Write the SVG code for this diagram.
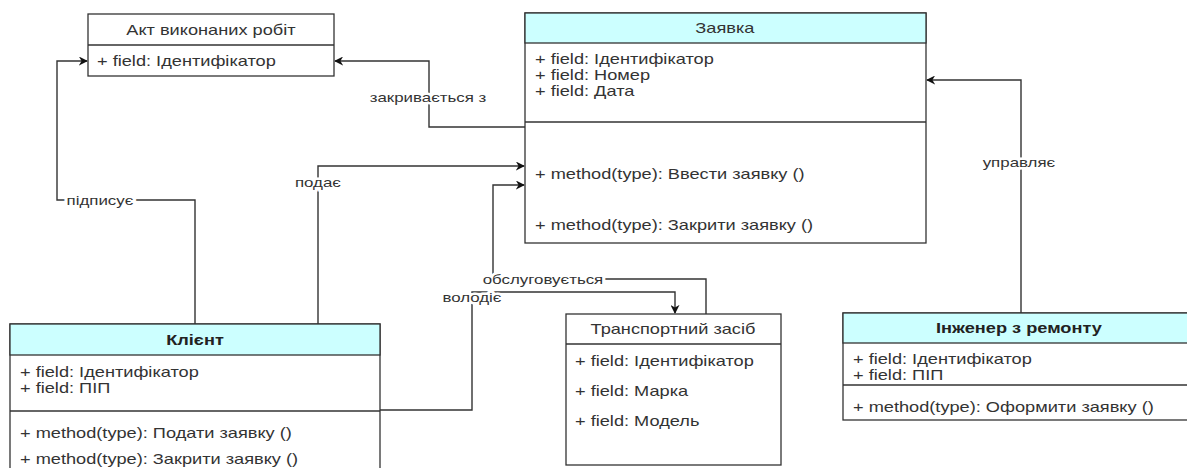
<svg xmlns="http://www.w3.org/2000/svg" width="1187" height="468" viewBox="0 0 1187 468">
<style>
text{font-family:"Liberation Sans",Arial,sans-serif;font-size:14px;fill:#333;transform:scaleX(1.3);transform-box:fill-box;transform-origin:0 50%}
.c{text-anchor:middle;transform-origin:50% 50%}
.b{font-weight:bold;fill:#222}
.lbl{font-size:13px;stroke:#fff;stroke-width:5px;paint-order:stroke;stroke-linejoin:round}
.box{fill:#fff;stroke:#333;stroke-width:1.3}
.hdr{fill:#ccffff;stroke:#333;stroke-width:1.3}
.ln{stroke:#333;stroke-width:1.3;fill:none}
.con{fill:none;stroke:#333;stroke-width:1.4}
</style>
<defs>
<marker id="arr" viewBox="0 0 10 10" refX="9" refY="5" markerWidth="9" markerHeight="9" markerUnits="userSpaceOnUse" orient="auto">
<path d="M0,0 L10,5 L0,10 L3,5 z" fill="#111"/>
</marker>
</defs>
<rect width="1187" height="468" fill="#fff"/>
<g id="connectors">
<path class="con" d="M195,324 V200 H57 V61 H87" marker-end="url(#arr)"/>
<path class="con" d="M525,127 H429 V61 H335" marker-end="url(#arr)"/>
<path class="con" d="M318,324 V166 H524" marker-end="url(#arr)"/>
<path class="con" d="M706,314 V279 H493 V185 H524" marker-end="url(#arr)"/>
<path class="con" d="M380,410 H472 V292 H675 V313" marker-end="url(#arr)"/>
<path class="con" d="M1021,313 V80 H927" marker-end="url(#arr)"/>
<text class="lbl c" x="100" y="200" dy=".35em">підписує</text>
<text class="lbl c" x="428" y="97" dy=".35em">закривається з</text>
<text class="lbl c" x="318" y="182" dy=".35em">подає</text>
<text class="lbl c" x="543" y="279" dy=".35em">обслуговується</text>
<text class="lbl c" x="472" y="297" dy=".35em">володіє</text>
<text class="lbl c" x="1019" y="162" dy=".35em">управляє</text>
</g>
<g id="akt">
<rect class="box" x="88" y="14" width="246" height="62"/>
<line class="ln" x1="88" y1="45" x2="334" y2="45"/>
<text class="c" x="211" y="30" dy=".35em">Акт виконаних робіт</text>
<text x="97" y="61" dy=".35em">+ field: Ідентифікатор</text>
</g>
<g id="zayavka">
<rect class="box" x="525" y="13" width="401" height="230"/>
<rect class="hdr" x="525" y="13" width="401" height="30"/>
<line class="ln" x1="525" y1="122" x2="926" y2="122"/>
<text class="c" x="725" y="28" dy=".35em">Заявка</text>
<text x="535" y="59" dy=".35em">+ field: Ідентифікатор</text>
<text x="535" y="75" dy=".35em">+ field: Номер</text>
<text x="535" y="91" dy=".35em">+ field: Дата</text>
<text x="535" y="174" dy=".35em">+ method(type): Ввести заявку ()</text>
<text x="535" y="225" dy=".35em">+ method(type): Закрити заявку ()</text>
</g>
<g id="klient">
<rect class="box" x="10" y="324" width="370" height="170"/>
<rect class="hdr" x="10" y="324" width="370" height="31"/>
<line class="ln" x1="10" y1="411" x2="380" y2="411"/>
<text class="c b" x="195" y="340" dy=".35em">Клієнт</text>
<text x="20" y="372" dy=".35em">+ field: Ідентифікатор</text>
<text x="20" y="388" dy=".35em">+ field: ПІП</text>
<text x="20" y="433" dy=".35em">+ method(type): Подати заявку ()</text>
<text x="20" y="459" dy=".35em">+ method(type): Закрити заявку ()</text>
</g>
<g id="transport">
<rect class="box" x="566" y="314" width="215" height="151"/>
<line class="ln" x1="566" y1="344" x2="781" y2="344"/>
<text class="c" x="673" y="329" dy=".35em">Транспортний засіб</text>
<text x="575" y="361" dy=".35em">+ field: Ідентифікатор</text>
<text x="575" y="391" dy=".35em">+ field: Марка</text>
<text x="575" y="421" dy=".35em">+ field: Модель</text>
</g>
<g id="inzhener">
<rect class="box" x="843" y="313" width="352" height="107"/>
<rect class="hdr" x="843" y="313" width="352" height="30"/>
<line class="ln" x1="843" y1="385" x2="1195" y2="385"/>
<text class="c b" x="1019" y="328" dy=".35em">Інженер з ремонту</text>
<text x="853" y="359" dy=".35em">+ field: Ідентифікатор</text>
<text x="853" y="375" dy=".35em">+ field: ПІП</text>
<text x="853" y="407" dy=".35em">+ method(type): Оформити заявку ()</text>
</g>
</svg>
